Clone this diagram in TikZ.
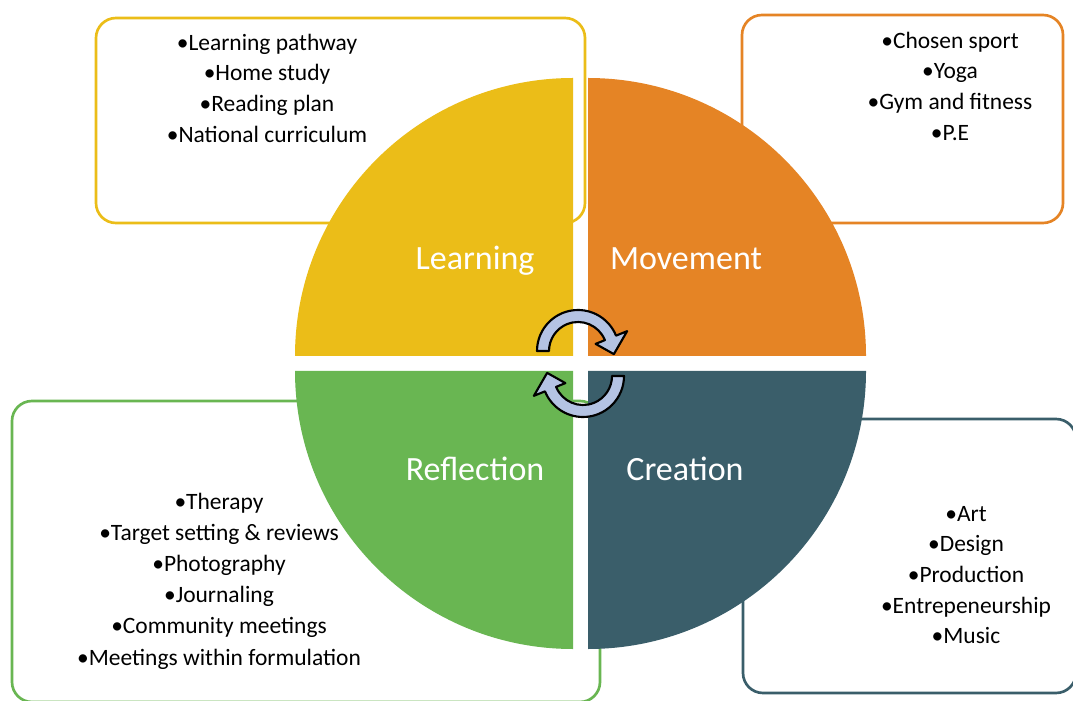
\documentclass[tikz,border=0pt]{standalone}
\usepackage{fontspec}
\setmainfont{Carlito}

\definecolor{learnYellow}{HTML}{EBBD18}
\definecolor{moveOrange}{HTML}{E58425}
\definecolor{reflectGreen}{HTML}{69B652}
\definecolor{createTeal}{HTML}{3A5E6A}
\definecolor{turnBlue}{HTML}{B4C3E3}

\tikzset{
	listbox/.style={line width=2pt, fill=white, rounded corners=15pt},
	itemlist/.style={align=center, inner sep=0pt, font=\fontsize{17.6}{23}\selectfont},
	sector/.style={text=white, inner sep=0pt, anchor=base, font=\fontsize{25.5}{30}\selectfont},
	turnarrow/.style={fill=turnBlue, draw=black, line width=1.6pt, line join=round}
}

% quarter-ring with its head, drawn around the origin
\newcommand{\turnpath}{(180:41) arc (180:22:41) -- (22:53) -- (-5:36) -- (22:19) -- (22:29) arc (22:180:29) -- cycle}

\begin{document}
\begin{tikzpicture}[x=0.75pt,y=0.75pt]
	\useasboundingbox (0,0) rectangle (1073,700);
	% boxes behind the disc
	\draw[listbox,draw=learnYellow] (96,477) rectangle (585,682);
	\draw[listbox,draw=moveOrange] (742,477) rectangle (1063,685);
	\draw[listbox,draw=reflectGreen] (12,-2) rectangle (600,299);
	\draw[listbox,draw=createTeal] (743,7) rectangle (1076,281);
	% the four quarters
	\fill[learnYellow] (573,344) -- (295,344) arc (180:90:278) -- cycle;
	\fill[moveOrange] (588,344) -- (588,622) arc (90:0:278) -- cycle;
	\fill[reflectGreen] (573,329) -- (573,51) arc (270:180:278) -- cycle;
	\fill[createTeal] (588,329) -- (866,329) arc (0:-90:278) -- cycle;
	% arrows in the middle
	\begin{scope}[shift={(578,349)}]
		\filldraw[turnarrow] \turnpath;
	\end{scope}
	\begin{scope}[shift={(583,324)},rotate=180]
		\filldraw[turnarrow] \turnpath;
	\end{scope}
	\node[sector] (learning) at (475,430) {Learning};
	\node[sector] (movement) at (686,430) {Movement};
	\node[sector] (reflection) at (475,220) {Reflection};
	\node[sector] (creation) at (685,220) {Creation};
	\node[itemlist] (learnlist) at (267,612) {•Learning pathway\\•Home study\\•Reading plan\\•National curriculum};
	\node[itemlist] (movelist) at (950,614) {•Chosen sport\\•Yoga\\•Gym and fitness\\•P.E};
	\node[itemlist,font=\fontsize{17.6}{23.4}\selectfont] (reflectlist) at (219,119) {•Therapy\\•Target setting \& reviews\\•Photography\\•Journaling\\•Community meetings\\•Meetings within formulation};
	\node[itemlist] (createlist) at (966,125) {•Art\\•Design\\•Production\\•Entrepeneurship\\•Music};
\end{tikzpicture}
\end{document}
